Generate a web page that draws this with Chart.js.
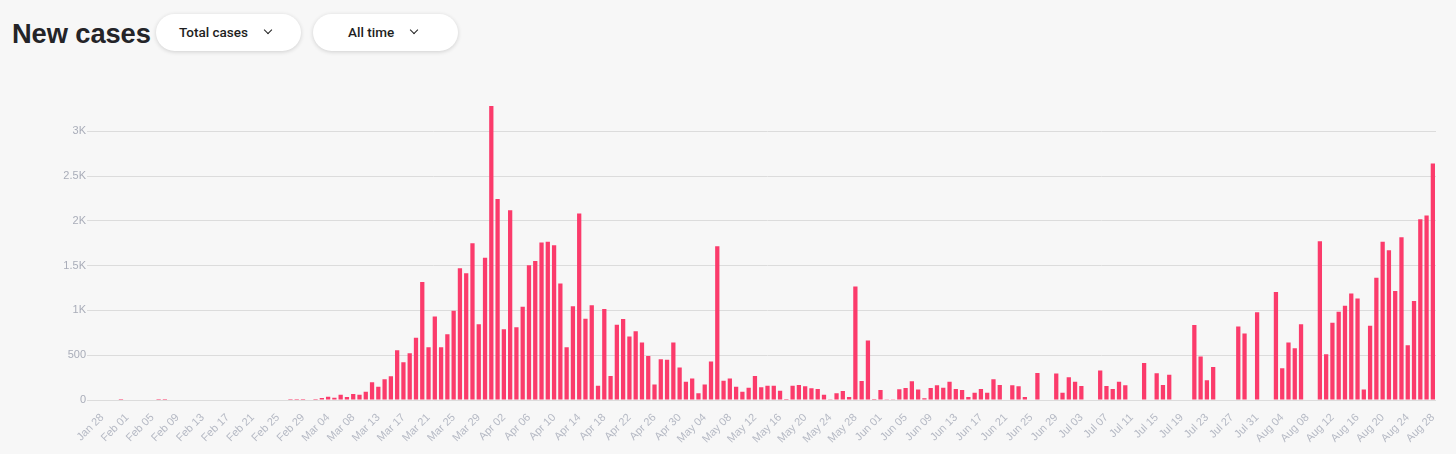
<!DOCTYPE html>
<html>
<head>
<meta charset="utf-8">
<script src="https://cdn.jsdelivr.net/npm/chart.js@4/dist/chart.umd.min.js"></script>
<style>
  html, body { margin:0; padding:0; background:#f7f7f7; width:1456px; height:454px; overflow:hidden; }
  #title { position:absolute; left:12px; top:20px; font-family:"Liberation Sans", Arial, sans-serif; font-weight:700; font-size:27.3px; line-height:27px; color:#242428; letter-spacing:-0.1px; }
  .pill { position:absolute; top:14px; height:37px; width:145px; background:#fff; border-radius:19px; box-shadow:0 1px 4px rgba(0,0,0,0.16); font-family:Roboto, "Liberation Sans", sans-serif; font-weight:500; font-size:13.5px; color:#1e1e22; }
  .pill span { position:absolute; top:10px; }
  .chev { position:absolute; top:13px; width:5px; height:5px; border-right:1.6px solid #222; border-bottom:1.6px solid #222; transform:rotate(45deg); }
  #c { position:absolute; left:0; top:0; }
</style>
</head>
<body>
<div id="title">New cases</div>
<div class="pill" style="left:156px;"><span style="left:23px;">Total cases</span><div class="chev" style="left:109px;"></div></div>
<div class="pill" style="left:313px;"><span style="left:35px;">All time</span><div class="chev" style="left:98px;"></div></div>
<canvas id="c" width="1456" height="454"></canvas>
<script>
const dates = [
 "Jan 28","Jan 29","Jan 30","Jan 31",
 "Feb 01","Feb 02","Feb 03","Feb 04","Feb 05","Feb 06","Feb 07","Feb 08","Feb 09","Feb 10",
 "Feb 11","Feb 12","Feb 13","Feb 14","Feb 15","Feb 16","Feb 17","Feb 18","Feb 19","Feb 20",
 "Feb 21","Feb 22","Feb 23","Feb 24","Feb 25","Feb 26","Feb 27","Feb 28","Feb 29",
 "Mar 01","Mar 02","Mar 03","Mar 04","Mar 05","Mar 06","Mar 07","Mar 08","Mar 09","Mar 10",
 "Mar 12","Mar 13","Mar 14","Mar 15","Mar 16","Mar 17","Mar 18","Mar 19","Mar 20","Mar 21",
 "Mar 22","Mar 23","Mar 24","Mar 25","Mar 26","Mar 27","Mar 28","Mar 29","Mar 30","Mar 31",
 "Apr 01","Apr 02","Apr 03","Apr 04","Apr 05","Apr 06","Apr 07","Apr 08","Apr 09","Apr 10",
 "Apr 11","Apr 12","Apr 13","Apr 14","Apr 15","Apr 16","Apr 17","Apr 18","Apr 19","Apr 20",
 "Apr 21","Apr 22","Apr 23","Apr 24","Apr 25","Apr 26","Apr 27","Apr 28","Apr 29","Apr 30",
 "May 01","May 02","May 03","May 04","May 05","May 06","May 07","May 08","May 09","May 10",
 "May 11","May 12","May 13","May 14","May 15","May 16","May 17","May 18","May 19","May 20",
 "May 21","May 22","May 23","May 24","May 25","May 26","May 27","May 28","May 29","May 30","May 31",
 "Jun 01","Jun 02","Jun 03","Jun 04","Jun 05","Jun 06","Jun 07","Jun 08","Jun 09","Jun 10",
 "Jun 11","Jun 12","Jun 13","Jun 14","Jun 15","Jun 16","Jun 17","Jun 18","Jun 19","Jun 20",
 "Jun 21","Jun 22","Jun 23","Jun 24","Jun 25","Jun 26","Jun 27","Jun 28","Jun 29","Jun 30",
 "Jul 01","Jul 02","Jul 03","Jul 04","Jul 05","Jul 06","Jul 07","Jul 08","Jul 09","Jul 10",
 "Jul 11","Jul 12","Jul 13","Jul 14","Jul 15","Jul 16","Jul 17","Jul 18","Jul 19","Jul 20",
 "Jul 21","Jul 22","Jul 23","Jul 24","Jul 25","Jul 26","Jul 27","Jul 28","Jul 29","Jul 30","Jul 31",
 "Aug 01","Aug 02","Aug 03","Aug 04","Aug 05","Aug 06","Aug 07","Aug 08","Aug 09","Aug 10",
 "Aug 11","Aug 12","Aug 13","Aug 14","Aug 15","Aug 16","Aug 17","Aug 18","Aug 19","Aug 20",
 "Aug 21","Aug 22","Aug 23","Aug 24","Aug 25","Aug 26","Aug 27","Aug 28"
];

// one row per label row above
const newCases = [
 0,0,0,10,
 0,0,0,0,0,10,10,0,0,0,
 0,0,0,0,0,0,0,0,0,0,
 0,0,0,0,0,0,10,10,10,
 0,10,22,37,26,60,34,67,60,93,
 198,149,231,265,556,421,522,694,1317,589,
 933,589,735,996,1470,1414,1749,847,1589,3282,
 2245,791,2119,813,1041,1503,1552,1757,1768,1727,
 1302,589,1048,2081,906,1059,160,1015,269,839,
 903,709,768,642,492,172,455,448,642,362,
 205,239,75,172,429,1716,216,239,149,93,
 138,269,142,160,160,104,11,160,168,153,
 131,123,60,7,75,101,34,1268,213,664,11,
 112,3,3,119,134,209,116,19,134,164,
 138,205,123,112,34,82,123,82,231,168,
 0,164,153,34,0,302,0,0,295,82,
 254,205,157,0,0,328,157,123,205,164,
 0,0,414,0,298,168,283,0,0,0,
 836,485,220,369,0,0,0,821,742,0,981,
 0,0,1205,354,642,578,847,0,0,1772,
 511,862,985,1052,1190,1134,116,828,1365,1768,
 1671,1216,1817,612,1104,2018,2059,2641
];

const yTickValues = [0, 500, 1000, 1500, 2000, 2500, 3000];
const labelEvery = 4;

const fontFam = '"Liberation Sans", Arial, sans-serif';
new Chart(document.getElementById('c').getContext('2d'), {
  type: 'bar',
  data: {
    labels: dates,
    datasets: [{
      data: newCases,
      backgroundColor: '#fb3b6b',
      borderWidth: 0,
      barPercentage: 0.68,
      categoryPercentage: 1.0
    }]
  },
  options: {
    responsive: false,
    animation: false,
    layout: { padding: { top: 86.5, right: 20, left: 0, bottom: 0 } },
    plugins: { legend: { display: false }, tooltip: { enabled: false } },
    scales: {
      x: {
        grid: { display: false },
        border: { display: false },
        ticks: {
          autoSkip: false, maxRotation: 45, minRotation: 45,
          color: '#b5b9c4', padding: 3,
          font: { size: 11, family: fontFam },
          callback: (v, i) => (i % labelEvery === 0 ? dates[i] : '')
        },
        afterFit: s => { s.height = 54; }
      },
      y: {
        min: 0, max: 3500,
        afterBuildTicks: a => { a.ticks = yTickValues.map(v => ({ value: v })); },
        grid: { color: '#dcdcdc', tickLength: 12, lineWidth: 1 },
        border: { display: false },
        ticks: {
          color: '#a9adb9', padding: 1,
          font: { size: 11, family: fontFam },
          callback: v => (v >= 1000 ? (v / 1000) + 'K' : String(v))
        },
        afterFit: s => { s.width = 99; }
      }
    }
  }
});
</script>
</body>
</html>
